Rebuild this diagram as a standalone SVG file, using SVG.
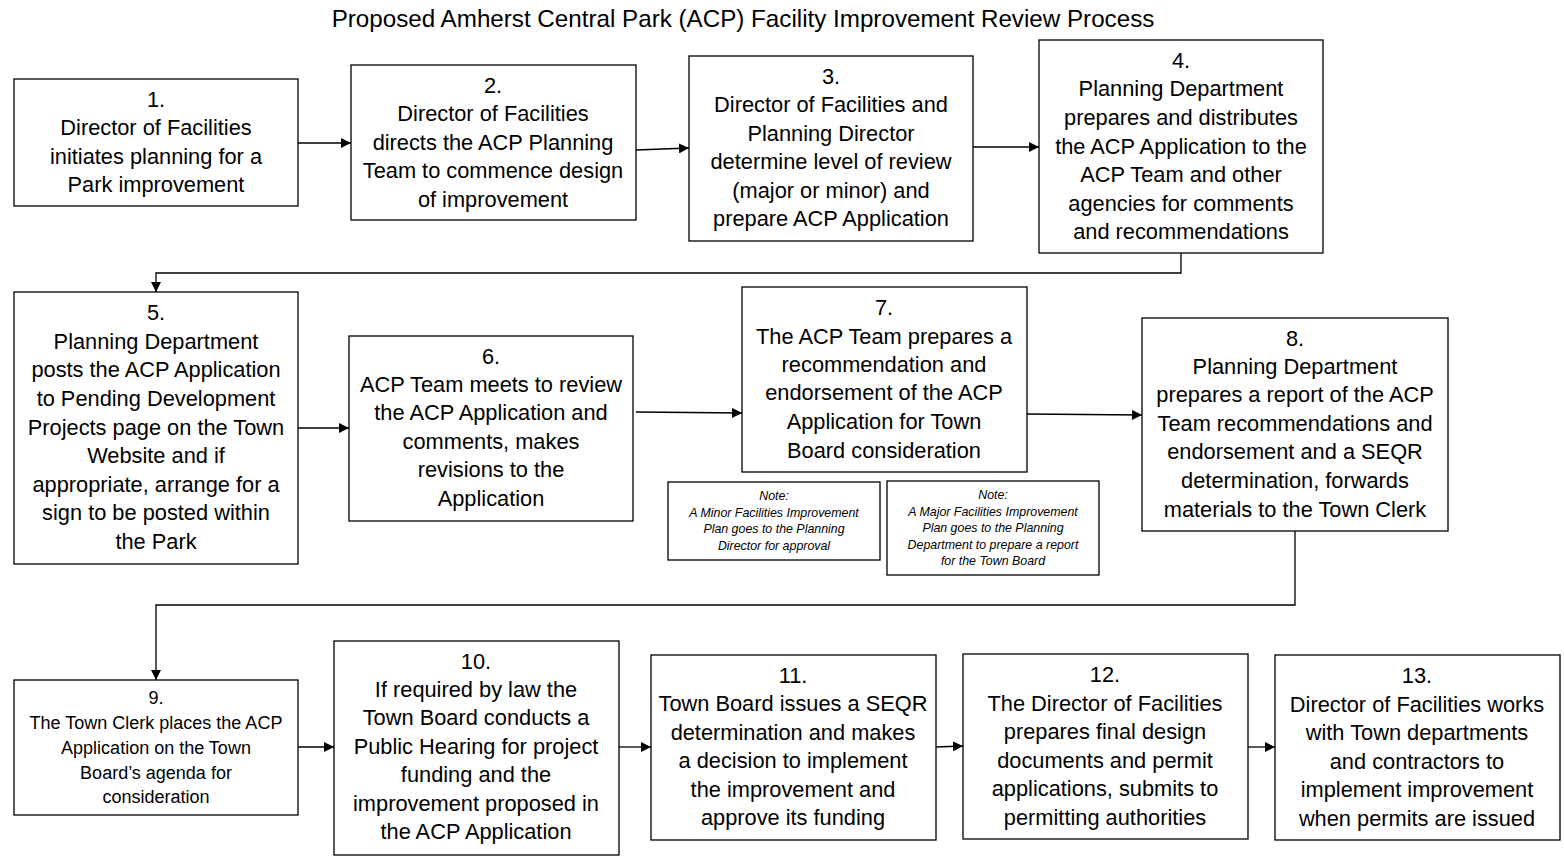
<svg xmlns="http://www.w3.org/2000/svg" width="1564" height="858" viewBox="0 0 1564 858">
  <style>
    .box { fill: #ffffff; stroke: #000000; stroke-width: 1.3; }
    .t { font-family: "Liberation Sans", Arial, sans-serif; font-size: 21.8px; fill: #000000; text-anchor: middle; }
    .s { font-family: "Liberation Sans", Arial, sans-serif; font-size: 18px; fill: #000000; text-anchor: middle; }
    .n { font-family: "Liberation Sans", Arial, sans-serif; font-size: 12.4px; font-style: italic; fill: #000000; text-anchor: middle; }
    .title { font-family: "Liberation Sans", Arial, sans-serif; font-size: 24.2px; fill: #000000; text-anchor: middle; }
    .c { fill: none; stroke: #000000; stroke-width: 1.3; marker-end: url(#arrow); }
  </style>
  <defs>
    <marker id="arrow" viewBox="0 0 10 10" refX="10" refY="5" markerWidth="10" markerHeight="10" markerUnits="userSpaceOnUse" orient="auto">
      <path d="M0,0 L10,5 L0,10 z" fill="#000000"/>
    </marker>
  </defs>
  <rect width="1564" height="858" fill="#ffffff"/>

  <text class="title" x="743" y="27">Proposed Amherst Central Park (ACP) Facility Improvement Review Process</text>

  <!-- connectors between steps -->
  <g id="connectors">
    <path class="c" d="M298,143 L351,143"/>
    <path class="c" d="M636,150 L689,148"/>
    <path class="c" d="M973,147 L1039,147"/>
    <path class="c" d="M1181,253 L1181,273 L156,273 L156,292"/>
    <path class="c" d="M298,428 L349,428"/>
    <path class="c" d="M636,412 L742,413"/>
    <path class="c" d="M1027,414 L1142,415"/>
    <path class="c" d="M1295,531 L1295,605 L156,605 L156,680"/>
    <path class="c" d="M298,747 L334,747"/>
    <path class="c" d="M619,747 L651,747"/>
    <path class="c" d="M936,747 L963,746"/>
    <path class="c" d="M1248,747 L1275,747"/>
  </g>

  <g id="step1">
    <rect class="box" x="14" y="79" width="284" height="127"/>
    <text class="t" x="156" y="107">1.</text>
    <text class="t" x="156" y="135">Director of Facilities</text>
    <text class="t" x="156" y="164">initiates planning for a</text>
    <text class="t" x="156" y="192">Park improvement</text>
  </g>

  <g id="step2">
    <rect class="box" x="351" y="65" width="285" height="155"/>
    <text class="t" x="493" y="93">2.</text>
    <text class="t" x="493" y="121">Director of Facilities</text>
    <text class="t" x="493" y="150">directs the ACP Planning</text>
    <text class="t" x="493" y="178">Team to commence design</text>
    <text class="t" x="493" y="207">of improvement</text>
  </g>

  <g id="step3">
    <rect class="box" x="689" y="56" width="284" height="185"/>
    <text class="t" x="831" y="84">3.</text>
    <text class="t" x="831" y="112">Director of Facilities and</text>
    <text class="t" x="831" y="141">Planning Director</text>
    <text class="t" x="831" y="169">determine level of review</text>
    <text class="t" x="831" y="198">(major or minor) and</text>
    <text class="t" x="831" y="226">prepare ACP Application</text>
  </g>

  <g id="step4">
    <rect class="box" x="1039" y="40" width="284" height="213"/>
    <text class="t" x="1181" y="68">4.</text>
    <text class="t" x="1181" y="96">Planning Department</text>
    <text class="t" x="1181" y="125">prepares and distributes</text>
    <text class="t" x="1181" y="154">the ACP Application to the</text>
    <text class="t" x="1181" y="182">ACP Team and other</text>
    <text class="t" x="1181" y="211">agencies for comments</text>
    <text class="t" x="1181" y="239">and recommendations</text>
  </g>

  <g id="step5">
    <rect class="box" x="14" y="292" width="284" height="272"/>
    <text class="t" x="156" y="320">5.</text>
    <text class="t" x="156" y="349">Planning Department</text>
    <text class="t" x="156" y="377">posts the ACP Application</text>
    <text class="t" x="156" y="406">to Pending Development</text>
    <text class="t" x="156" y="435">Projects page on the Town</text>
    <text class="t" x="156" y="463">Website and if</text>
    <text class="t" x="156" y="492">appropriate, arrange for a</text>
    <text class="t" x="156" y="520">sign to be posted within</text>
    <text class="t" x="156" y="549">the Park</text>
  </g>

  <g id="step6">
    <rect class="box" x="349" y="336" width="284" height="185"/>
    <text class="t" x="491" y="364">6.</text>
    <text class="t" x="491" y="392">ACP Team meets to review</text>
    <text class="t" x="491" y="420">the ACP Application and</text>
    <text class="t" x="491" y="449">comments, makes</text>
    <text class="t" x="491" y="477">revisions to the</text>
    <text class="t" x="491" y="506">Application</text>
  </g>

  <g id="step7">
    <rect class="box" x="742" y="287" width="285" height="185"/>
    <text class="t" x="884" y="315">7.</text>
    <text class="t" x="884" y="344">The ACP Team prepares a</text>
    <text class="t" x="884" y="372">recommendation and</text>
    <text class="t" x="884" y="400">endorsement of the ACP</text>
    <text class="t" x="884" y="429">Application for Town</text>
    <text class="t" x="884" y="458">Board consideration</text>
  </g>

  <g id="note-minor">
    <rect class="box" x="668" y="482" width="212" height="78"/>
    <text class="n" x="774" y="500">Note:</text>
    <text class="n" x="774" y="517">A Minor Facilities Improvement</text>
    <text class="n" x="774" y="533">Plan goes to the Planning</text>
    <text class="n" x="774" y="550">Director for approval</text>
  </g>

  <g id="note-major">
    <rect class="box" x="887" y="481" width="212" height="94"/>
    <text class="n" x="993" y="499">Note:</text>
    <text class="n" x="993" y="516">A Major Facilities Improvement</text>
    <text class="n" x="993" y="532">Plan goes to the Planning</text>
    <text class="n" x="993" y="549">Department to prepare a report</text>
    <text class="n" x="993" y="565">for the Town Board</text>
  </g>

  <g id="step8">
    <rect class="box" x="1142" y="318" width="306" height="213"/>
    <text class="t" x="1295" y="346">8.</text>
    <text class="t" x="1295" y="374">Planning Department</text>
    <text class="t" x="1295" y="402">prepares a report of the ACP</text>
    <text class="t" x="1295" y="431">Team recommendations and</text>
    <text class="t" x="1295" y="459">endorsement and a SEQR</text>
    <text class="t" x="1295" y="488">determination, forwards</text>
    <text class="t" x="1295" y="517">materials to the Town Clerk</text>
  </g>

  <g id="step9">
    <rect class="box" x="14" y="680" width="284" height="135"/>
    <text class="s" x="156" y="704">9.</text>
    <text class="s" x="156" y="729">The Town Clerk places the ACP</text>
    <text class="s" x="156" y="754">Application on the Town</text>
    <text class="s" x="156" y="779">Board’s agenda for</text>
    <text class="s" x="156" y="803">consideration</text>
  </g>

  <g id="step10">
    <rect class="box" x="334" y="641" width="285" height="214"/>
    <text class="t" x="476" y="669">10.</text>
    <text class="t" x="476" y="697">If required by law the</text>
    <text class="t" x="476" y="725">Town Board conducts a</text>
    <text class="t" x="476" y="754">Public Hearing for project</text>
    <text class="t" x="476" y="782">funding and the</text>
    <text class="t" x="476" y="811">improvement proposed in</text>
    <text class="t" x="476" y="839">the ACP Application</text>
  </g>

  <g id="step11">
    <rect class="box" x="651" y="655" width="285" height="185"/>
    <text class="t" x="793" y="683">11.</text>
    <text class="t" x="793" y="711">Town Board issues a SEQR</text>
    <text class="t" x="793" y="740">determination and makes</text>
    <text class="t" x="793" y="768">a decision to implement</text>
    <text class="t" x="793" y="797">the improvement and</text>
    <text class="t" x="793" y="825">approve its funding</text>
  </g>

  <g id="step12">
    <rect class="box" x="963" y="654" width="285" height="185"/>
    <text class="t" x="1105" y="682">12.</text>
    <text class="t" x="1105" y="711">The Director of Facilities</text>
    <text class="t" x="1105" y="739">prepares final design</text>
    <text class="t" x="1105" y="768">documents and permit</text>
    <text class="t" x="1105" y="796">applications, submits to</text>
    <text class="t" x="1105" y="825">permitting authorities</text>
  </g>

  <g id="step13">
    <rect class="box" x="1275" y="655" width="285" height="185"/>
    <text class="t" x="1417" y="683">13.</text>
    <text class="t" x="1417" y="712">Director of Facilities works</text>
    <text class="t" x="1417" y="740">with Town departments</text>
    <text class="t" x="1417" y="769">and contractors to</text>
    <text class="t" x="1417" y="797">implement improvement</text>
    <text class="t" x="1417" y="826">when permits are issued</text>
  </g>
</svg>
